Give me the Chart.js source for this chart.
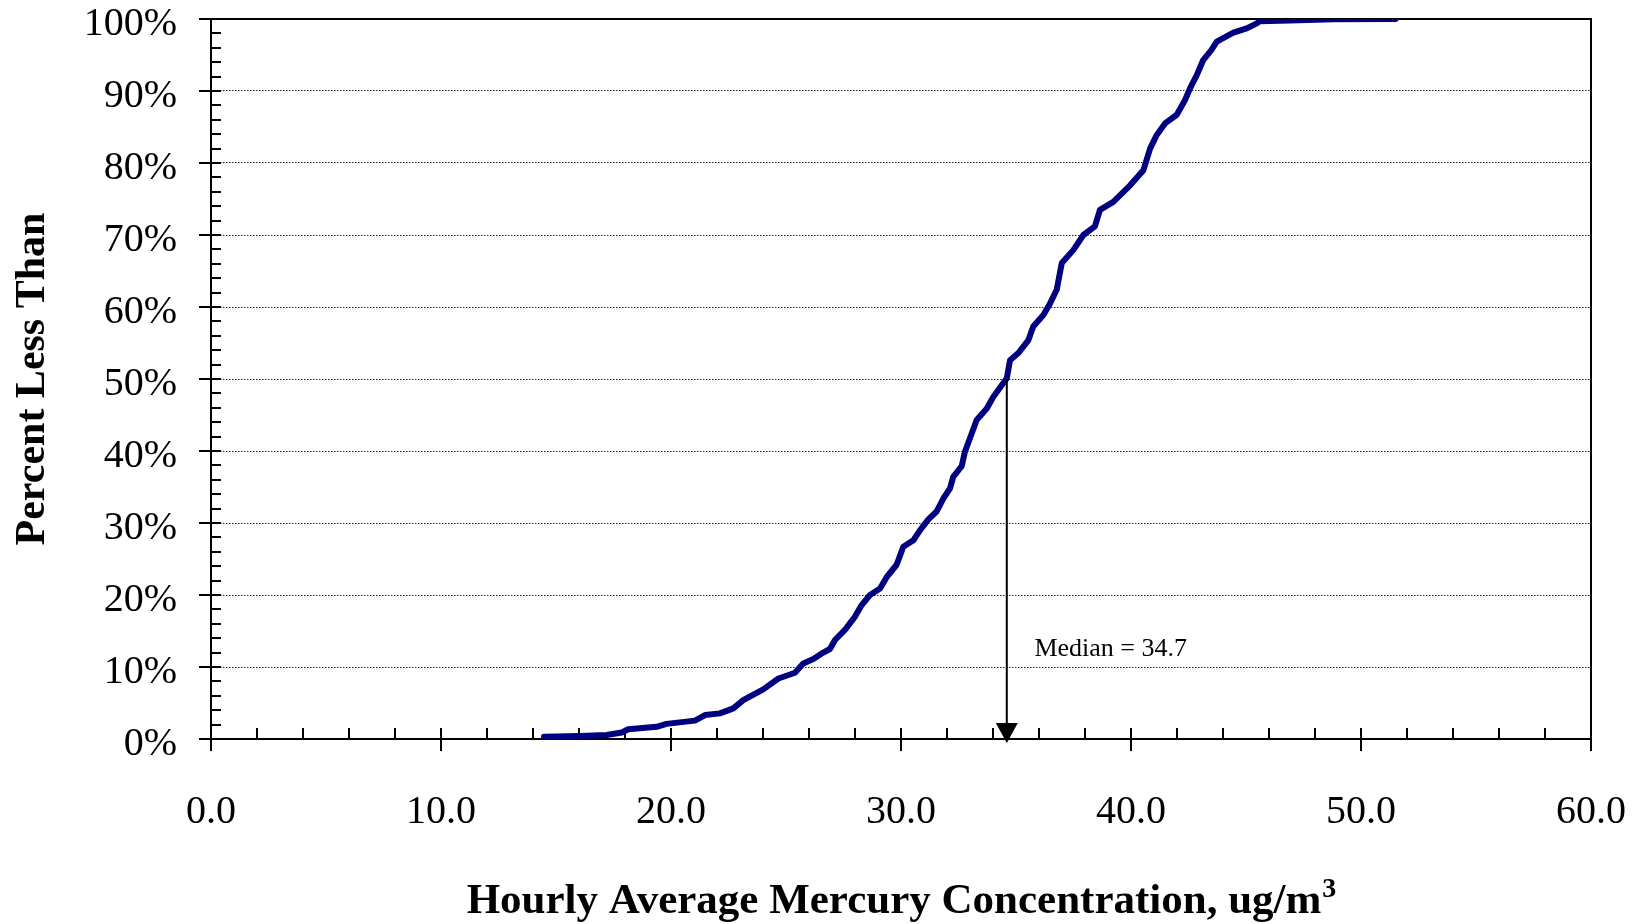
<!DOCTYPE html>
<html>
<head>
  <meta charset="utf-8">
  <title>Hourly Average Mercury Concentration</title>
  <script src="https://cdn.jsdelivr.net/npm/chart.js"></script>
  <style>
    body { margin: 0; background: #fff; }
    #wrap { width: 1639px; height: 924px; position: relative; }
  </style>
</head>
<body>
  <div id="wrap"><canvas id="myChart"></canvas></div>

  <script>
    // cumulative distribution
    const concentration = [
      14.48, 16.04, 17.2, 17.86, 18.14, 19.38, 19.8, 21.04, 21.48, 22.13,
      22.71, 23.14, 24.01, 24.67, 25.39, 25.75, 26.19, 26.62, 26.91, 27.13,
      27.57, 28.0, 28.29, 28.65, 29.09, 29.38, 29.81, 30.1, 30.54, 30.83,
      31.19, 31.55, 31.84, 32.13, 32.27, 32.64, 32.78, 33.07, 33.29, 33.73,
      34.01, 34.6, 34.74, 35.1, 35.54, 35.75, 36.19, 36.48, 36.77, 36.99,
      37.49, 37.93, 38.43, 38.65, 39.23, 39.96, 40.54, 40.83, 41.12, 41.48,
      41.99, 42.35, 42.57, 42.86, 43.14, 43.5, 43.73, 44.45, 45.03, 45.47,
      45.6, 46.9, 48.8, 51.5
    ];
    const percentLess = [
      0.3, 0.4, 0.55, 0.9, 1.35, 1.7, 2.1, 2.55, 3.33, 3.56,
      4.26, 5.4, 6.9, 8.4, 9.2, 10.5, 11.1, 12.0, 12.5, 13.75,
      15.2, 17.0, 18.6, 20.0, 20.9, 22.5, 24.2, 26.7, 27.6, 29.0,
      30.5, 31.6, 33.4, 34.8, 36.4, 37.9, 39.9, 42.4, 44.3, 45.9,
      47.5, 50.1, 52.6, 53.6, 55.4, 57.3, 58.9, 60.5, 62.4, 66.1,
      67.9, 70.0, 71.2, 73.5, 74.6, 76.9, 79.0, 82.0, 83.9, 85.5,
      86.7, 88.75, 90.4, 92.2, 94.3, 95.7, 96.85, 98.1, 98.7, 99.4,
      99.7, 99.8, 99.95, 100
    ];

    const xTickLabels = ['0.0', '10.0', '20.0', '30.0', '40.0', '50.0', '60.0'];
    const yTickLabels = ['0%', '10%', '20%', '30%', '40%', '50%', '60%', '70%', '80%', '90%', '100%'];

    const xTitle = 'Hourly Average Mercury Concentration, ug/m';
    const xTitleSup = '3';
    const yTitle = 'Percent Less Than';

    // median marker
    const medianX = 34.6;
    const medianPct = 50;
    const medianText = 'Median = 34.7';
    const medianTextAt = [35.8, 11.5];

    const serif = "'Liberation Serif', 'Times New Roman', serif";
    Chart.defaults.font.family = serif;
    Chart.defaults.color = '#000';

    // frame, small inside ticks, x title with superscript, median arrow
    const frameTicks = {
      id: 'frameTicks',
      beforeDatasetsDraw(chart) {
        const c = chart.ctx;
        const a = chart.chartArea;
        const xs = chart.scales.x;
        const ys = chart.scales.y;
        c.save();
        c.strokeStyle = '#000';
        c.lineWidth = 2;
        c.strokeRect(a.left, a.top, a.right - a.left, a.bottom - a.top);

        c.beginPath();
        for (let v = xs.min; v <= xs.max; v += 2) {
          const px = Math.round(xs.getPixelForValue(v));
          const major = v % 10 === 0;
          c.moveTo(px, a.bottom - 11);
          c.lineTo(px, a.bottom + (major ? 12 : 0));
        }
        for (let v = ys.min; v <= ys.max; v += 2) {
          const py = Math.round(ys.getPixelForValue(v));
          const major = v % 10 === 0;
          c.moveTo(a.left - (major ? 12 : 0), py);
          c.lineTo(a.left + 10, py);
        }
        c.stroke();

        // x axis title
        const mainFont = 'bold 43px ' + serif;
        const supFont = 'bold 28px ' + serif;
        c.font = mainFont;
        const w1 = c.measureText(xTitle).width;
        c.font = supFont;
        const w2 = c.measureText(xTitleSup).width;
        const x0 = (a.left + a.right) / 2 - (w1 + w2) / 2;
        const base = 913;
        c.fillStyle = '#000';
        c.textAlign = 'left';
        c.textBaseline = 'alphabetic';
        c.font = mainFont;
        c.fillText(xTitle, x0, base);
        c.font = supFont;
        c.fillText(xTitleSup, x0 + w1 + 1, base - 16);
        c.restore();
      },
      afterDatasetsDraw(chart) {
        const c = chart.ctx;
        const xs = chart.scales.x;
        const ys = chart.scales.y;
        const mx = xs.getPixelForValue(medianX);
        const top = ys.getPixelForValue(medianPct);
        const tip = ys.getPixelForValue(0) + 4;
        c.save();
        c.strokeStyle = '#000';
        c.fillStyle = '#000';
        c.lineWidth = 2;
        c.beginPath();
        c.moveTo(mx, top);
        c.lineTo(mx, tip - 18);
        c.stroke();
        c.beginPath();
        c.moveTo(mx - 11, tip - 20);
        c.lineTo(mx + 11, tip - 20);
        c.lineTo(mx, tip);
        c.closePath();
        c.fill();

        c.font = '26px ' + serif;
        c.textAlign = 'left';
        c.textBaseline = 'alphabetic';
        c.fillText(medianText, xs.getPixelForValue(medianTextAt[0]), ys.getPixelForValue(medianTextAt[1]));
        c.restore();
      }
    };

    const ctx = document.getElementById('myChart').getContext('2d');

    const myChart = new Chart(ctx, {
      type: 'scatter',
      data: {
        datasets: [{
          data: concentration.map((x, i) => ({ x: x, y: percentLess[i] })),
          showLine: true,
          borderColor: '#000080',
          borderWidth: 6,
          borderJoinStyle: 'round',
          borderCapStyle: 'round',
          pointRadius: 0,
          tension: 0
        }]
      },
      options: {
        responsive: true,
        maintainAspectRatio: false,
        animation: false,
        layout: { padding: { top: 19, right: 48, left: 0, bottom: 0 } },
        plugins: {
          legend: { display: false },
          tooltip: { enabled: false }
        },
        scales: {
          x: {
            type: 'linear',
            min: 0,
            max: 60,
            afterFit(s) { s.height = 185; s.paddingLeft = 0; s.paddingRight = 0; },
            grid: { display: false, drawTicks: false },
            border: { display: false },
            ticks: {
              stepSize: 10,
              padding: 49,
              maxRotation: 0,
              autoSkip: false,
              font: { size: 40 },
              callback: (v, i) => xTickLabels[i]
            }
          },
          y: {
            min: 0,
            max: 100,
            afterFit(s) { s.width = 211; s.paddingTop = 0; s.paddingBottom = 0; },
            grid: { drawTicks: false, color: '#222', lineWidth: 1 },
            border: { display: false, dash: [1.5, 1.5] },
            ticks: {
              stepSize: 10,
              padding: 34,
              labelOffset: 5,
              font: { size: 40 },
              callback: (v, i) => yTickLabels[i]
            },
            title: {
              display: true,
              text: yTitle,
              font: { size: 42, weight: 'bold' },
              padding: { top: 8, bottom: 0 }
            }
          }
        }
      },
      plugins: [frameTicks]
    });
  </script>
</body>
</html>
